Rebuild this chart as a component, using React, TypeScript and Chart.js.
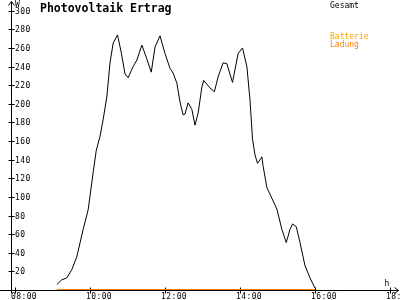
import { useEffect, useRef } from 'react';
import { Chart, registerables } from 'chart.js';

Chart.register(...registerables);

// Gesamt (total PV output, W)
const times = [
  '09:07', '09:15', '09:23', '09:31', '09:39', '09:49', '09:57', '10:05', '10:10', '10:16',
  '10:21', '10:27', '10:32', '10:37', '10:44', '10:50', '10:56', '11:01', '11:09', '11:15',
  '11:23', '11:31', '11:38', '11:44', '11:52', '12:00', '12:08', '12:13', '12:19', '12:24',
  '12:29', '12:32', '12:37', '12:43', '12:48', '12:53', '12:59', '13:02', '13:12', '13:19',
  '13:25', '13:33', '13:39', '13:48', '13:57', '14:04', '14:11', '14:16', '14:20', '14:24',
  '14:28', '14:35', '14:37', '14:43', '14:59', '15:07', '15:14', '15:20', '15:24', '15:30',
  '15:36', '15:44', '15:52', '16:00',
];
const gesamt = [
  6, 11, 13, 22, 36, 65, 86, 126, 150, 165,
  183, 208, 244, 265, 274, 255, 232, 228, 240, 247,
  263, 248, 234, 261, 273, 254, 238, 233, 222, 202,
  188, 189, 201, 194, 177, 190, 218, 225, 217, 213,
  229, 244, 243, 223, 254, 260, 240, 204, 162, 145,
  136, 143, 133, 110, 87, 65, 51, 65, 71, 68,
  51, 26, 13, 2,
];

// Batterie Ladung (battery charge, W)
const ladungTimes = ['09:07', '16:00'];
const ladung = [0, 0];

const xTickLabels = ['08:00', '10:00', '12:00', '14:00', '16:00', '18:00'];
const yTickLabels = ['20', '40', '60', '80', '100', '120', '140', '160', '180', '200', '220', '240', '260', '280', '300'];

const title = 'Photovoltaik Ertrag';
const yUnit = 'W';
const xUnit = 'h';
const legendItems = [
  { text: 'Gesamt', color: '#000000' },
  { text: 'Batterie', color: '#ffa500' },
  { text: 'Ladung', color: '#ff8000' },
];

const toMin = (s: string) => {
  const [h, m] = s.split(':').map(Number);
  return h * 60 + m;
};

const MONO = '"DejaVu Sans Mono", "Liberation Mono", monospace';

const rrdPlugin = {
  id: 'rrdAxes',
  beforeDatasetsDraw(chart: any) {
    const { ctx, scales } = chart;
    const x = scales.x;
    const y = scales.y;
    const ax = Math.round(x.getPixelForValue(x.min)) + 0.5;
    const ay = Math.round(y.getPixelForValue(0)) + 0.5;
    const right = Math.round(x.getPixelForValue(x.max)) + 0.5;
    const top = Math.round(y.getPixelForValue(y.max)) + 0.5;
    ctx.save();
    ctx.strokeStyle = '#000';
    ctx.lineWidth = 1;
    ctx.beginPath();
    // x axis
    ctx.moveTo(0, ay);
    ctx.lineTo(right, ay);
    ctx.moveTo(right - 4, ay - 3);
    ctx.lineTo(right, ay);
    ctx.lineTo(right - 4, ay + 3);
    // y axis
    ctx.moveTo(ax, ay + 3);
    ctx.lineTo(ax, top);
    ctx.moveTo(ax - 3, top + 4);
    ctx.lineTo(ax, top);
    ctx.lineTo(ax + 3, top + 4);
    // y ticks
    yTickLabels.forEach((l) => {
      const py = Math.round(y.getPixelForValue(Number(l))) + 0.5;
      ctx.moveTo(ax - 3, py);
      ctx.lineTo(ax + 3, py);
    });
    // x ticks
    xTickLabels.forEach((l) => {
      const px = Math.round(x.getPixelForValue(toMin(l))) + 0.5;
      ctx.moveTo(px, ay - 3);
      ctx.lineTo(px, ay + 3);
    });
    ctx.stroke();

    ctx.fillStyle = '#000';
    ctx.font = `8px ${MONO}`;
    (ctx as any).letterSpacing = '0.4px';
    ctx.textAlign = 'left';
    ctx.textBaseline = 'middle';
    yTickLabels.forEach((l) => {
      const py = Math.round(y.getPixelForValue(Number(l)));
      ctx.fillText(l, ax + 3.5, py + 0.5);
    });
    ctx.textBaseline = 'top';
    xTickLabels.forEach((l) => {
      const px = Math.round(x.getPixelForValue(toMin(l)));
      ctx.fillText(l, px - 4, ay + 2);
    });
    ctx.textBaseline = 'alphabetic';
    ctx.fillText(yUnit, ax + 3.5, 6.5);
    ctx.fillText(xUnit, right - 14, ay - 4.5);
    ctx.restore();
  },
  afterDraw(chart: any) {
    const { ctx } = chart;
    ctx.save();
    ctx.textAlign = 'left';
    ctx.textBaseline = 'alphabetic';
    ctx.fillStyle = '#000';
    ctx.font = `bold 11.5px ${MONO}`;
    ctx.fillText(title, 40, 12);
    ctx.font = `8px ${MONO}`;
    const ys = [7.5, 38.5, 46.5];
    legendItems.forEach((it, i) => {
      ctx.fillStyle = it.color;
      ctx.fillText(it.text, 330, ys[i]);
    });
    ctx.restore();
  },
};

export default function App() {
  const ref = useRef<HTMLCanvasElement | null>(null);
  useEffect(() => {
    if (!ref.current) return;
    const chart = new Chart(ref.current, {
      type: 'line',
      data: {
        datasets: [
          {
            label: 'Gesamt',
            data: times.map((t, i) => ({ x: toMin(t), y: gesamt[i] })),
            borderColor: '#000000',
            borderWidth: 1,
            pointRadius: 0,
            tension: 0,
          },
          {
            label: 'Ladung',
            data: ladungTimes.map((t, i) => ({ x: toMin(t), y: ladung[i] })),
            borderColor: '#ff8000',
            borderWidth: 2,
            pointRadius: 0,
            tension: 0,
          },
        ],
      },
      options: {
        animation: false,
        responsive: false,
        devicePixelRatio: 1,
        layout: { padding: { left: 11, top: 1, right: 2, bottom: 10 } },
        scales: {
          x: { type: 'linear', display: false, min: 473.6, max: 1092.8 },
          y: { type: 'linear', display: false, min: 0, max: 310.4 },
        },
        plugins: {
          legend: { display: false },
          tooltip: { enabled: false },
        },
      },
      plugins: [rrdPlugin],
    } as any);
    return () => chart.destroy();
  }, []);
  return (
    <div style={{ position: 'absolute', left: 0, top: 0, width: 400, height: 300, background: '#fff' }}>
      <canvas ref={ref} width={400} height={300} />
    </div>
  );
}
